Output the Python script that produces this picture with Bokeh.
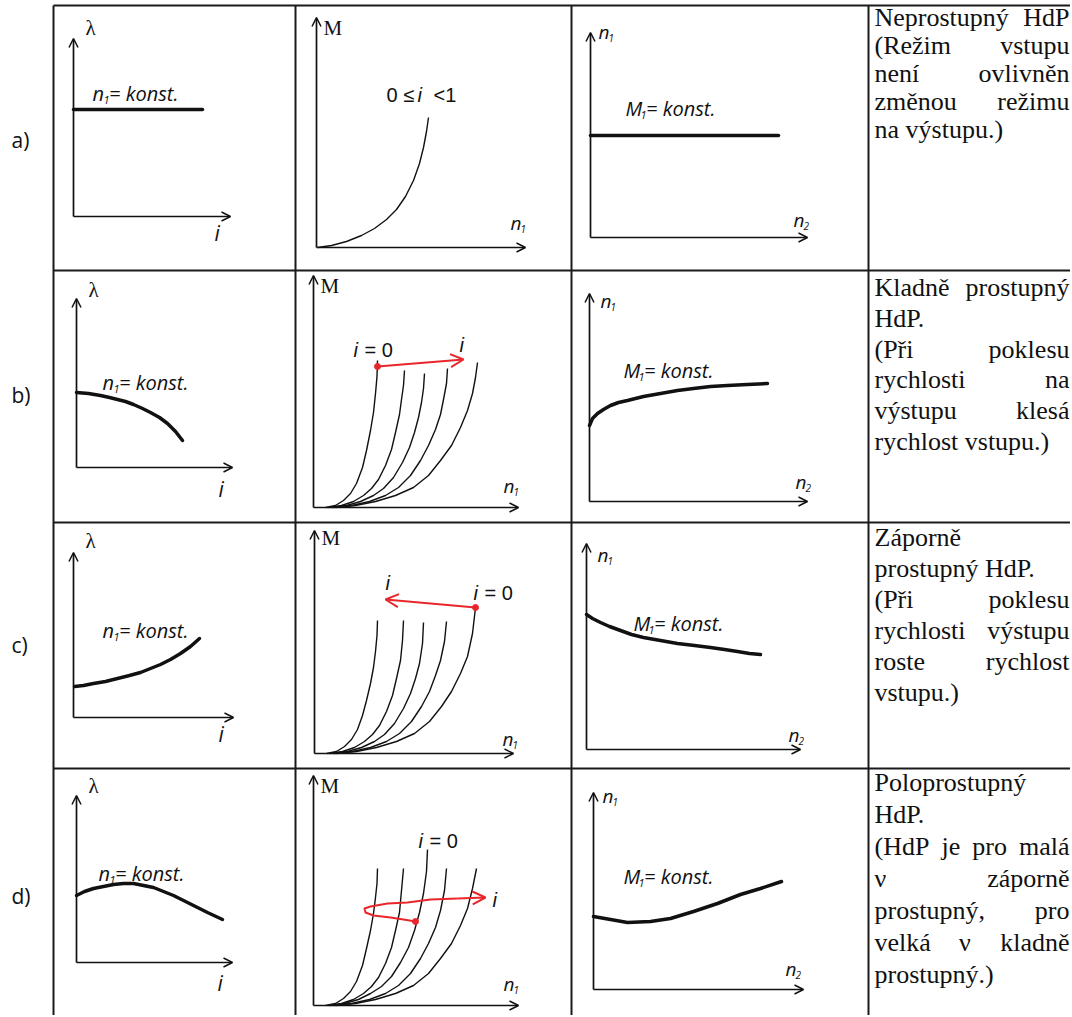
from bokeh.plotting import figure
from bokeh.models import Range1d, Arrow, OpenHead, ColumnDataSource
from bokeh.embed import file_html
from bokeh.resources import INLINE
from bokeh.core.properties import value

# ======================= DATA =======================
row_labels = ["a)", "b)", "c)", "d)"]

# Column 1: lambda over i at n1 = konst.  (local units: i to the right, lambda up)
lam_i = [[0, 129],
         [0, 12, 24, 33, 41, 49, 57, 66, 74, 83, 91, 99, 106],
         [1, 10, 20, 32, 44, 56, 67, 77, 87, 97, 107, 117, 126],
         [0, 8, 17, 27, 37, 47, 57, 67, 77, 87, 97, 107, 117, 131, 146]]
lam_v = [[107, 107],
         [75, 74, 72, 70, 68, 66, 63, 59, 55, 50, 44, 36, 27],
         [31, 32, 34, 36, 39, 42, 45, 49, 53, 58, 64, 71, 79],
         [67, 71, 74, 76, 78, 79, 79, 77, 75, 71, 67, 62, 57, 50, 43]]

# Column 2: M over n1, one curve per transfer ratio i
M_a_n = [[1, 15, 30, 45, 58, 70, 80, 89, 97, 103, 107, 110, 112]]
M_a_v = [[0, 2, 6, 12, 19, 28, 38, 51, 67, 84, 100, 116, 130]]
M_b_n = [[12, 22, 30, 37, 43, 49, 53, 57, 60, 62, 63.5, 64],
         [15, 28, 40, 50, 58, 65, 72, 78, 82, 86, 88, 90, 91],
         [18, 33, 47, 60, 70, 80, 89, 96, 101, 105, 108, 110, 111],
         [20, 38, 56, 72, 85, 97, 107, 115, 122, 127, 130, 133, 134],
         [22, 42, 62, 82, 100, 115, 127, 138, 147, 154, 159, 162, 164]]
M_b_v = [[0, 2, 7, 14, 24, 40, 57, 77, 95, 114, 131, 147],
         [0, 2, 6, 12, 19, 28, 42, 58, 75, 93, 108, 122, 137],
         [0, 2, 6, 12, 19, 30, 45, 60, 75, 90, 105, 119, 134],
         [0, 2, 6, 12, 20, 32, 47, 62, 78, 93, 108, 124, 139],
         [0, 2, 6, 12, 20, 32, 47, 62, 80, 97, 114, 130, 145]]
M_c_n = [[12, 22, 30, 37, 43, 48, 52, 56, 59, 61, 62.5, 63],
         [15, 28, 40, 50, 58, 65, 72, 78, 82, 86, 88, 89],
         [18, 33, 47, 60, 70, 80, 89, 96, 101, 105, 108, 109],
         [20, 38, 56, 72, 85, 97, 107, 115, 121, 126, 130, 132],
         [22, 42, 62, 82, 100, 115, 127, 137, 146, 153, 158, 161]]
M_c_v = [[0, 2, 7, 14, 24, 38, 53, 70, 86, 102, 118, 133],
         [0, 2, 6, 12, 19, 28, 42, 58, 75, 93, 113, 133],
         [0, 2, 6, 12, 19, 30, 45, 60, 75, 90, 110, 131],
         [0, 2, 6, 12, 20, 32, 47, 62, 78, 93, 112, 132],
         [0, 2, 6, 12, 20, 32, 47, 62, 80, 97, 120, 146]]
M_d_n = [[12, 22, 30, 37, 43, 49, 53, 57, 60, 62, 63.5, 64],
         [15, 28, 40, 50, 58, 65, 72, 78, 82, 86, 88, 90],
         [17, 31, 45, 57, 68, 78, 87, 95, 101, 106, 110, 113, 114],
         [20, 38, 56, 72, 85, 97, 107, 115, 122, 127, 131, 133],
         [22, 42, 62, 82, 100, 115, 127, 138, 147, 154, 159, 163]]
M_d_v = [[0, 2, 7, 14, 24, 40, 57, 75, 92, 108, 122, 137],
         [0, 2, 6, 12, 19, 28, 42, 58, 75, 93, 115, 137],
         [0, 2, 6, 12, 19, 29, 43, 58, 75, 93, 112, 134, 156],
         [0, 2, 6, 12, 20, 32, 47, 62, 78, 95, 115, 137],
         [0, 2, 6, 12, 20, 32, 47, 62, 80, 97, 117, 137]]
M_n = [M_a_n, M_b_n, M_c_n, M_d_n]
M_v = [M_a_v, M_b_v, M_c_v, M_d_v]

# red "direction of i" marks in column 2 (rows b, c, d)
red_n = [None, [64, 150], [161, 71],
         [102, 90, 77, 60, 52, 51, 57, 74, 94, 117, 144, 172]]
red_v = [None, [141, 148], [146, 154],
         [84, 86, 88, 90, 93, 97, 99, 102, 103, 106, 107, 108]]

# Column 3: n1 over n2 at M1 = konst.
n1_n2 = [[0, 188],
         [0, 3, 8, 14, 21, 29, 38, 54, 71, 88, 104, 121, 138, 158, 178],
         [0, 6, 14, 23, 34, 45, 57, 74, 91, 108, 124, 138, 151, 163, 174],
         [0, 17, 34, 57, 77, 100, 124, 147, 167, 188]]
n1_v = [[102, 102],
        [76, 83, 88, 92, 96, 99, 101, 105, 108, 111, 113, 115, 116, 117, 118],
        [135, 131, 127, 123, 119, 115, 112, 109, 106, 104, 102, 100, 98, 96, 95],
        [73, 70, 67, 68, 71, 78, 86, 95, 101, 108]]

# Column 4: descriptions (one string per printed line) and justification flags
desc = [
    ["Neprostupný HdP", "(Režim vstupu", "není ovlivněn", "změnou režimu", "na výstupu.)"],
    ["Kladně prostupný", "HdP.", "(Při poklesu", "rychlosti na", "výstupu klesá", "rychlost vstupu.)"],
    ["Záporně", "prostupný HdP.", "(Při poklesu", "rychlosti výstupu", "roste rychlost", "vstupu.)"],
    ["Poloprostupný", "HdP.", "(HdP je pro malá", "ν záporně", "prostupný, pro", "velká ν kladně",
     "prostupný.)"],
]
justified = [
    [True, True, True, True, False],
    [True, False, True, True, True, False],
    [False, False, True, True, True, False],
    [False, False, True, True, True, True, False],
]

# ======================= LAYOUT =======================
W, H = 1070, 1015
H_LINES = [5, 270, 522, 768]
V_LINES = [53, 295, 571, 868]
TABLE_RIGHT, TABLE_BOTTOM = 1072, 1017

# panel origins (x, y), x-axis end, y-axis top
col1 = [((73, 216), 230, 38), ((76, 467), 232, 298), ((73, 717), 233, 552), ((76, 962), 232, 795)]
col2 = [((316, 247), 525, 17), ((313, 507), 518, 275), ((314, 753), 513, 530), ((313, 1005), 518, 775)]
col3 = [((590, 237), 807, 32), ((589, 501), 807, 293), ((586, 749), 800, 543), ((593, 989), 803, 792)]

BLACK = "#111111"
RED = "#e8262b"
SERIF = value("Liberation Serif, DejaVu Serif, serif")
SANS = value("Liberation Sans, Arial, sans-serif")
OPEN = value("Open Sans, sans-serif")

p = figure(width=W, height=H, x_range=Range1d(0, W), y_range=Range1d(H, 0),
           output_backend="svg", toolbar_location=None, min_border=0)
p.xaxis.visible = False
p.yaxis.visible = False
p.xgrid.visible = False
p.ygrid.visible = False
p.outline_line_color = None
p.background_fill_color = "white"
p.border_fill_color = "white"


def txt(x, y, s, font=OPEN, style="normal", size=20, align="left", color=BLACK):
    """y is the text baseline (converted to the em-box middle)."""
    p.text(x=[x], y=[y - 0.36 * size], text=[s], text_font=font, text_font_style=style,
           text_font_size=f"{size}px", text_align=align, text_baseline="middle",
           text_color=color)


def sub_label(x, y, main, sub, rest="", size=20, adv=11.5):
    txt(x, y, main, OPEN, "italic", size)
    txt(x + adv - 0.5, y + 3, sub, OPEN, "italic", round(size * 0.55))
    if rest:
        txt(x + adv + 5, y, rest, OPEN, "italic", size)


def to_xy(origin, us, vs):
    ox, oy = origin
    return [ox + u for u in us], [oy - v for v in vs]


# ---- table grid ----
p.segment(x0=[V_LINES[0]] * len(H_LINES), y0=H_LINES, x1=[TABLE_RIGHT] * len(H_LINES), y1=H_LINES,
          line_width=2, line_color="#1a1a1a")
p.segment(x0=V_LINES, y0=[H_LINES[0]] * len(V_LINES), x1=V_LINES, y1=[TABLE_BOTTOM] * len(V_LINES),
          line_width=2, line_color="#1a1a1a")

# ---- axes with arrow heads ----
ax = dict(x0=[], y0=[], x1=[], y1=[])
for col in (col1, col2, col3):
    for (ox, oy), xe, yt in col:
        ax["x0"] += [ox, ox]
        ax["y0"] += [oy, oy]
        ax["x1"] += [xe, ox]
        ax["y1"] += [oy, yt]
p.add_layout(Arrow(end=OpenHead(size=9, line_width=1.5, line_color=BLACK),
                   x_start="x0", y_start="y0", x_end="x1", y_end="y1",
                   source=ColumnDataSource(ax), line_width=1.7, line_color=BLACK))

# ---- row labels ----
row_label_base = [147, 402, 652, 903]
for lab, yb in zip(row_labels, row_label_base):
    txt(11, yb, lab, OPEN, "normal", 21)

# ---- column 1 ----
lam_base = [35, 297, 548, 793]
i_base = [240, 496, 741, 990]
i_x = [214, 218, 218, 217]
konst1 = [(92, 100), (102, 389), (102, 637), (98, 880)]
for r in range(4):
    (o, xe, yt) = col1[r]
    xs, ys = to_xy(o, lam_i[r], lam_v[r])
    p.line(xs, ys, line_width=3.5, line_color=BLACK, line_join="round", line_cap="round")
    txt(o[0] + 12, lam_base[r], "λ", SERIF, "normal", 21)
    txt(i_x[r], i_base[r], "i", OPEN, "italic", 21)
    sub_label(konst1[r][0], konst1[r][1], "n", "1", "= konst.", 20, 11.5)

# ---- column 2 ----
M_base = [35, 293, 545, 793]
n1b = [(510, 229), (503, 492), (502, 745), (503, 990)]
for r in range(4):
    (o, xe, yt) = col2[r]
    for us, vs in zip(M_n[r], M_v[r]):
        xs, ys = to_xy(o, us, vs)
        p.line(xs, ys, line_width=1.4, line_color=BLACK, line_join="round")
    txt(o[0] + 7, M_base[r], "M", SERIF, "normal", 21)
    sub_label(n1b[r][0], n1b[r][1], "n", "1", "", 19, 10.5)
    if red_n[r] is not None:
        xs, ys = to_xy(o, red_n[r], red_v[r])
        p.line(xs[:-1], ys[:-1], line_width=2, line_color=RED, line_join="round")
        p.add_layout(Arrow(end=OpenHead(size=13, line_width=2, line_color=RED),
                           x_start=xs[-2], y_start=ys[-2], x_end=xs[-1], y_end=ys[-1],
                           line_width=2, line_color=RED))
        p.scatter([xs[0]], [ys[0]], size=6, color=RED)

# row a: "0 <= i < 1"
txt(386, 102, "0 ≤", SANS, "normal", 20)
txt(417, 102, "i", SANS, "italic", 20)
txt(433, 102, "<1", SANS, "normal", 20)
# i = 0 labels and arrow labels
ieq = [None, (353, 357), (473, 600), (418, 848)]
iarrow = [None, (459, 352), (385, 590), (492, 907)]
for r in range(1, 4):
    x, y = ieq[r]
    txt(x, y, "i", SANS, "italic", 20)
    txt(x + 11, y, "= 0", SANS, "normal", 20)
    txt(iarrow[r][0], iarrow[r][1], "i", SANS, "italic", 20)

# ---- column 3 ----
n1t = [(598, 38), (600, 307), (597, 561), (602, 802)]
n2b = [(793, 226), (795, 488), (788, 741), (785, 975)]
konst3 = [(625, 115), (623, 377), (633, 630), (623, 883)]
for r in range(4):
    (o, xe, yt) = col3[r]
    xs, ys = to_xy(o, n1_n2[r], n1_v[r])
    p.line(xs, ys, line_width=3.5, line_color=BLACK, line_join="round", line_cap="round")
    sub_label(n1t[r][0], n1t[r][1], "n", "1", "", 19, 10.5)
    sub_label(n2b[r][0], n2b[r][1], "n", "2", "", 19, 10.5)
    sub_label(konst3[r][0], konst3[r][1], "M", "1", "= konst.", 20, 15.5)

# ---- column 4: descriptions ----
TW = {"a": .444, "b": .5, "c": .444, "d": .5, "e": .444, "f": .333, "g": .5, "h": .5, "i": .278,
      "j": .278, "k": .5, "l": .278, "m": .778, "n": .5, "o": .5, "p": .5, "r": .333, "s": .389,
      "t": .278, "u": .5, "v": .5, "w": .722, "y": .5, "z": .444, "H": .722, "K": .722, "N": .722,
      "P": .556, "R": .667, "Z": .611, "(": .333, ")": .333, ".": .25, ",": .25, " ": .25,
      "á": .444, "ě": .444, "í": .278, "ř": .333, "ý": .5, "ž": .444, "ν": .5}
FS = 26
TL, TR = 874, 1069


def tw(s):
    return sum(TW.get(c, .5) for c in s) * FS


# em-box middle of the first line and line pitch per row
desc_centre = [(16.5, 28), (287, 30.8), (537, 31), (782, 32)]
for r in range(4):
    c0, step = desc_centre[r]
    for k, (line, just) in enumerate(zip(desc[r], justified[r])):
        y = c0 + k * step + 0.36 * FS
        words = line.split(" ")
        if just and len(words) > 1:
            widths = [tw(w) for w in words]
            gap = (TR - TL - sum(widths)) / (len(words) - 1)
            txt(TL, y, words[0], SERIF, "normal", FS)
            x = TL + widths[0] + gap
            for w, wd in zip(words[1:-1], widths[1:-1]):
                txt(x, y, w, SERIF, "normal", FS)
                x += wd + gap
            txt(TR, y, words[-1], SERIF, "normal", FS, align="right")
        else:
            txt(TL, y, line, SERIF, "normal", FS)

open("out.html", "w").write(file_html(p, INLINE))
